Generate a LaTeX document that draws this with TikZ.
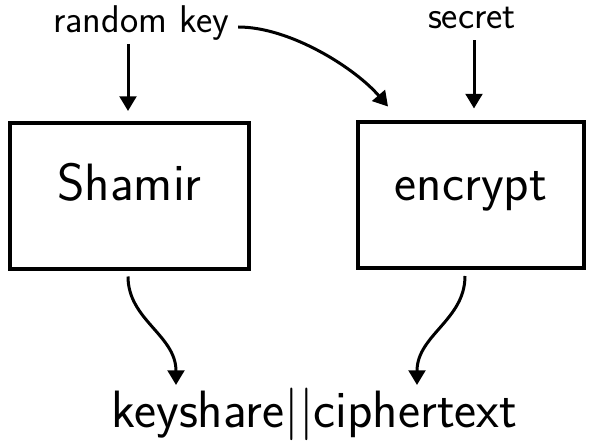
\documentclass[tikz,border=0pt]{standalone}
\usetikzlibrary{arrows.meta,calc}
\begin{document}
\begin{tikzpicture}[x=0.75pt,y=0.75pt,
  box/.style={draw,line width=3pt,minimum height=109.5pt,inner sep=0pt,text height=0.69em,text depth=0pt},
  lbl/.style={inner sep=0pt,font=\sffamily\fontsize{29}{32}\selectfont},
  big/.style={font=\sffamily\fontsize{39.4}{44}\selectfont},
  arr/.style={line width=2.25pt,-{Triangle[length=11pt,width=12.5pt]}}]
\useasboundingbox (0,0) rectangle (594,443);
\node[box,big,minimum width=179.25pt] (sh) at (129.5,247) {Shamir};
\node[box,big,minimum width=169.5pt] (enc) at (471,247.5) {encrypt};
\node[lbl,anchor=base] (rk) at (141,410) {random key};
\node[lbl,anchor=base] (sec) at (472,414) {secret};
\node[big,inner sep=0pt,anchor=base] (out) at (314.5,15) {keyshare||ciphertext};
\draw[arr] ($(sh.north)+(-1.5,77)$) -- ($(sh.north)+(-1.5,10)$);
\draw[arr] ($(enc.north)+(3,80)$) -- ($(enc.north)+(3,12)$);
\draw[arr] ($(rk.base east)+(9,6)$) .. controls (290,416) and (355,375) .. ($(enc.north west)+(32,14)$);
\draw[arr] ($(sh.south)+(-1.5,-5.5)$) .. controls (128,123) and (176,108) .. ($(out.base)+(-138.5,43)$);
\draw[arr] ($(enc.south)+(-6,-5.5)$) .. controls (465,123) and (417,108) .. ($(out.base)+(102.5,43)$);
\end{tikzpicture}
\end{document}
